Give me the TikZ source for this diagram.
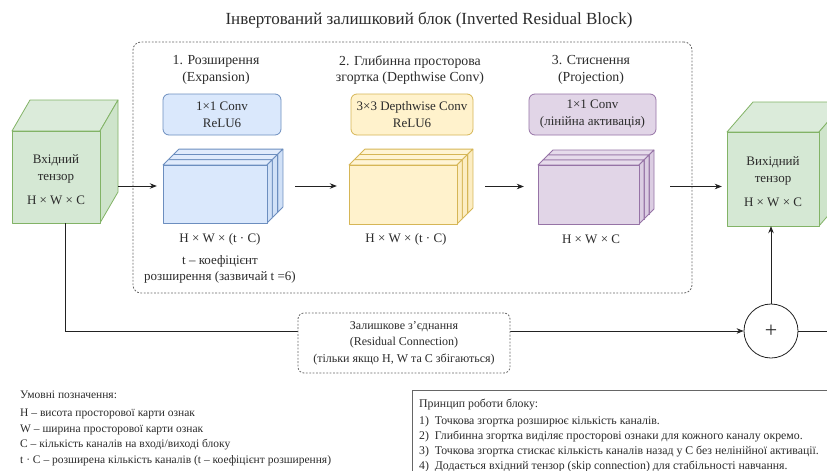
\documentclass[tikz,border=0pt]{standalone}
\usepackage{fontspec}
\setmainfont{Liberation Serif}
\usetikzlibrary{arrows.meta,calc}
\definecolor{bluef}{HTML}{DAE8FC}\definecolor{blues}{HTML}{6C8EBF}
\definecolor{yelf}{HTML}{FFF2CC}\definecolor{yels}{HTML}{D6B656}
\definecolor{purf}{HTML}{E1D5E7}\definecolor{purs}{HTML}{9673A6}
\definecolor{grnf}{HTML}{D5E8D4}\definecolor{grns}{HTML}{82B366}
\definecolor{txt}{HTML}{2B2B2B}
\definecolor{ln}{HTML}{222222}
\definecolor{dotc}{HTML}{666666}

% #1 front SW coordinate, #2 w, #3 h, #4 dx, #5 dy (up), #6 n, #7 fill, #8 stroke
\newcommand\stackcube[8]{%
  \foreach \k in {#6,...,0}{%
    \begin{scope}[shift={($(#1)+(\k*#4,-\k*#5)$)}]
      \filldraw[draw=#8, fill=#7!85!white, line width=0.8pt, line join=round]
        (0,-#3) -- ++(#4,-#5) -- ++(#2,0) -- ++(-#4,#5) -- cycle;
      \filldraw[draw=#8, fill=#7!92!#8, line width=0.8pt, line join=round]
        (#2,0) -- ++(#4,-#5) -- ++(0,-#3) -- ++(-#4,#5) -- cycle;
      \filldraw[draw=#8, fill=#7, line width=0.8pt, line join=round]
        (0,0) rectangle (#2,-#3);
    \end{scope}}}

\begin{document}
\begin{tikzpicture}[x=1pt,y=-1pt,
  every node/.style={text=txt, inner sep=0pt},
  hdr/.style={font=\fontsize{13.8}{16.5}\selectfont, align=center},
  dimlbl/.style={font=\fontsize{13}{17}\selectfont, align=center},
  small/.style={font=\fontsize{11.5}{13}\selectfont, anchor=west},
  psmall/.style={font=\fontsize{11.8}{13}\selectfont, anchor=west},
  arr/.style={draw=ln, line width=0.8pt, -{Stealth[length=7pt,width=5.5pt]}},
  conn/.style={draw=ln, line width=0.8pt},
  convbox/.style={rounded corners=6pt, line width=0.8pt, minimum height=41pt,
    align=center, font=\fontsize{13}{17}\selectfont},
  dotbox/.style={draw=dotc, line width=0.8pt, dash pattern=on 1.8pt off 1.6pt}
]
\useasboundingbox (0,0) rectangle (827,471);
\clip (0,0) rectangle (827,471);
\fill[white] (0,0) rectangle (827,471);

% title
\node[font=\fontsize{17}{20}\selectfont] (title) at (429,20)
  {Інвертований залишковий блок (Inverted Residual Block)};

% main dotted block
\node[dotbox, rounded corners=8pt, minimum width=559pt, minimum height=251pt] (block) at (412.5,167.5) {};

% stage headers
\node[hdr] (h1) at (216,70) {1. Розширення\\(Expansion)};
\node[hdr] (h2) at (410,70) {2. Глибинна просторова\\згортка (Depthwise Conv)};
\node[hdr] (h3) at (591,70) {3. Стиснення\\(Projection)};

% conv boxes
\node[convbox, draw=blues, fill=bluef, minimum width=118pt] (c1) at (222,114.5) {1×1 Conv\\ReLU6};
\node[convbox, draw=yels, fill=yelf, minimum width=122pt] (c2) at (412,114.5) {3×3 Depthwise Conv\\ReLU6};
\node[convbox, draw=purs, fill=purf, minimum width=127pt] (c3) at (592.5,114.5) {1×1 Conv\\(лінійна активація)};

% input cube
\coordinate (insw) at (12,223);
\stackcube{insw}{88}{92}{18}{31}{0}{grnf}{grns}
\node[minimum width=106pt, minimum height=123pt] (inblk) at (65,161.5) {};
\node[dimlbl, minimum width=88pt, minimum height=92pt] (inface) at (56,180)
  {Вхідний\\тензор\\[7pt]H × W × C};

% output cube
\coordinate (outsw) at (727,226);
\stackcube{outsw}{92}{94}{26}{30}{0}{grnf}{grns}
\node[minimum width=92pt, minimum height=94pt] (outface) at (773,179) {};
\node[dimlbl] (outtxt) at (773,182) {Вихідний\\тензор\\[7pt]H × W × C};

% stacked tensors
\coordinate (bluesw) at (163,223);
\stackcube{bluesw}{104}{58}{5.3}{5.3}{2}{bluef}{blues}
\node[minimum width=120pt, minimum height=74pt] (blue) at (223,186) {};

\coordinate (yelsw) at (349,224);
\stackcube{yelsw}{108}{59}{5.3}{5.3}{2}{yelf}{yels}
\node[minimum width=124pt, minimum height=75pt] (yellow) at (411,186.5) {};

\coordinate (pursw) at (538,224);
\stackcube{pursw}{101}{59}{5}{5}{2}{purf}{purs}
\node[minimum width=116pt, minimum height=75pt] (purple) at (596,186.5) {};

% dimension labels
\node[dimlbl] (d1) at (220,239) {H × W × (t · C)};
\node[dimlbl] (d2) at (406,239) {H × W × (t · C)};
\node[dimlbl] (d3) at (591,239) {H × W × C};
\node[dimlbl, font=\fontsize{13}{16}\selectfont] (tnote) at (220,269) {t – коефіцієнт\\розширення (зазвичай t =6)};

% main flow arrows
\draw[arr, shorten >=6pt] (inblk.east |- blue.west) -- (blue.west);
\draw[arr, shorten <=12pt, shorten >=12pt] (blue.east) -- (blue.east -| yellow.west);
\draw[arr, shorten <=12pt, shorten >=14pt] (yellow.east) -- (yellow.east -| purple.west);
\draw[arr, shorten <=16pt, shorten >=5pt] (purple.east) -- (purple.east -| outface.west);

% residual connection
\node[draw=ln, line width=0.8pt, circle, minimum size=54pt, fill=white,
  font=\fontsize{22}{22}\selectfont] (plus) at (771,331) {+};
\coordinate (exitR) at (840,331);
\draw[arr] (inblk.south) |- (plus.west);
\draw[conn] (plus.east) -- (exitR);
\draw[arr] (plus.north) -- (plus.north |- outface.south);
\node[dotbox, rounded corners=6pt, fill=white, minimum width=212pt, minimum height=60pt,
  align=center, font=\fontsize{12}{16.5}\selectfont] (res) at (404,343)
  {Залишкове з’єднання\\(Residual Connection)\\(тільки якщо H, W та C збігаються)};

% legend
\node[small] (lg0) at (20,395) {Умовні позначення:};
\node[small] (lg1) at (20,414) {H – висота просторової карти ознак};
\node[small] (lg2) at (20,429.5) {W – ширина просторової карти ознак};
\node[small] (lg3) at (20,445) {C – кількість каналів на вході/виході блоку};
\node[small] (lg4) at (20,460.5) {t · C – розширена кількість каналів (t – коефіцієнт розширення)};

% principle box
\node[draw=dotc, line width=0.8pt, minimum width=430pt, minimum height=95pt, anchor=north west] (pbox) at (412,390) {};
\node[psmall] (p0) at (419,405) {Принцип роботи блоку:};
\node[psmall] (p1) at (419,422) {1)\enspace Точкова згортка розширює кількість каналів.};
\node[psmall] (p2) at (419,437) {2)\enspace Глибинна згортка виділяє просторові ознаки для кожного каналу окремо.};
\node[psmall] (p3) at (419,452) {3)\enspace Точкова згортка стискає кількість каналів назад у C без нелінійної активації.};
\node[psmall] (p4) at (419,467) {4)\enspace Додається вхідний тензор (skip connection) для стабільності навчання.};
\end{tikzpicture}
\end{document}
